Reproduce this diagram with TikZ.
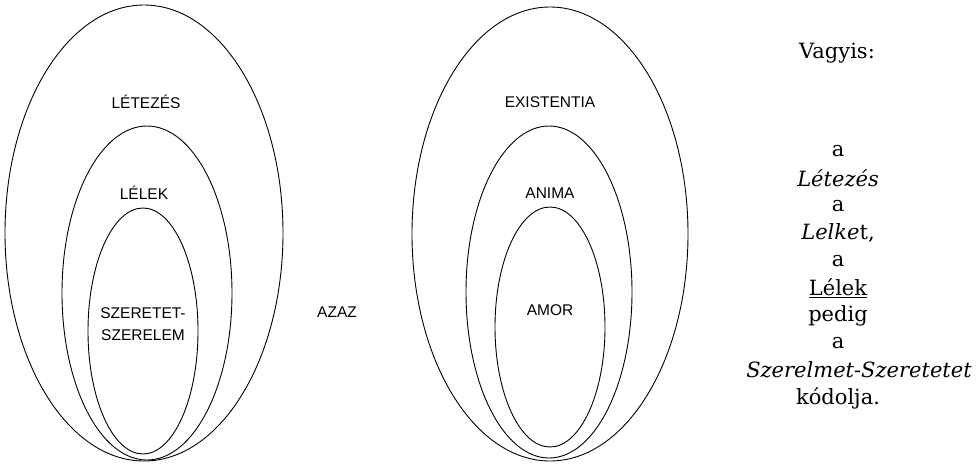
\documentclass[tikz,border=0pt]{standalone}
\usepackage{fontspec}
\setmainfont{DejaVu Serif}
\newfontfamily\tagfont{Liberation Sans}

\tikzset{
    oval/.style={draw=black, line width=0.9pt},
    tag/.style={font=\tagfont\fontsize{15.5}{22}\selectfont, align=center, inner sep=0pt},
    verse/.style={font=\fontsize{21}{26}\selectfont, inner sep=0pt}
}

\begin{document}
\begin{tikzpicture}[x=1pt, y=-1pt]
        \useasboundingbox (0,0) rectangle (976,463);
        
        \draw[oval] (144,233) ellipse [x radius=139, y radius=228];
        \draw[oval] (147,293) ellipse [x radius=85, y radius=167];
        \draw[oval] (143,331) ellipse [x radius=55, y radius=123];
        \node[tag] (letezes) at (146,102) {LÉTEZÉS};
        \node[tag] (lelek) at (144,193) {LÉLEK};
        \node[tag] (szeretet) at (143,324) {SZERETET-\\SZERELEM};
        
        \node[tag] (azaz) at (337,312) {AZAZ};
        
        \draw[oval] (550,234) ellipse [x radius=138, y radius=227];
        \draw[oval] (549,292) ellipse [x radius=83, y radius=166];
        \draw[oval] (550,327) ellipse [x radius=55, y radius=120];
        \node[tag] (existentia) at (550,102) {EXISTENTIA};
        \node[tag] (anima) at (550,193) {ANIMA};
        \node[tag] (amor) at (550,310) {AMOR};
        
        \node[verse] (vagyis) at (837,53) {Vagyis:};
        \node[verse] (a1) at (838,151) {a};
        \node[verse] (letezesv) at (838,178) {\textit{Létezés}};
        \node[verse] (a2) at (838,206) {a};
        \node[verse] (lelket) at (838,233) {\textit{Lelke}t,};
        \node[verse] (a3) at (838,261) {a};
        \node[verse] (lelekv) at (838,288) {\underline{Lélek}};
        \node[verse] (pedig) at (838,316) {pedig};
        \node[verse] (a4) at (838,343) {a};
        \node[verse] (szerelmet) at (859,370) {\textit{Szerelmet-Szeretetet}};
        \node[verse] (kodolja) at (838,398) {kódolja.};
        
    \end{tikzpicture}
\end{document}
